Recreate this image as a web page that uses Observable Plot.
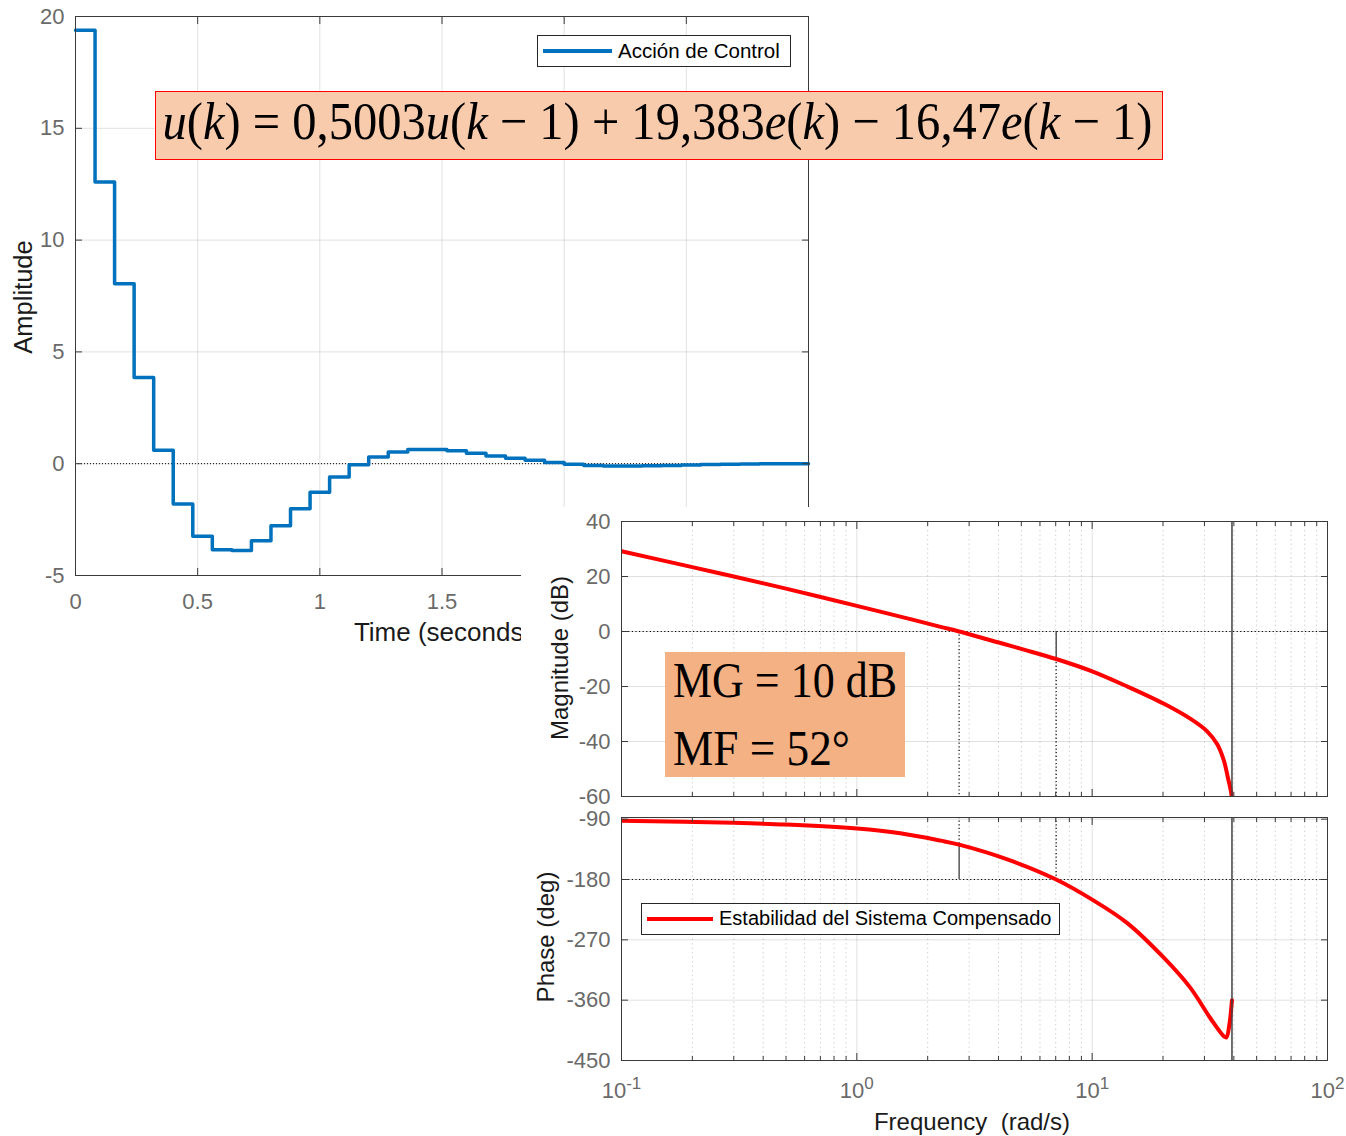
<!DOCTYPE html>
<html><head><meta charset="utf-8">
<script src="https://cdn.jsdelivr.net/npm/d3@7"></script>
<script src="https://cdn.jsdelivr.net/npm/@observablehq/plot@0.6"></script>
<style>
html,body{margin:0;padding:0;background:#fff;}
#root{position:relative;width:1346px;height:1136px;overflow:hidden;font-family:"Liberation Sans",Arial,sans-serif;background:#fff;}
.vlab{position:absolute;white-space:pre;color:#1a1a1a;transform:translate(-50%,-50%) rotate(-90deg);}
.hlab{position:absolute;white-space:pre;color:#1a1a1a;transform:translate(-50%,-50%);}
.legend{position:absolute;box-sizing:border-box;border:1px solid #262626;background:#fff;font-size:20px;color:#000;white-space:nowrap;}
.legend .sw{position:absolute;left:5px;top:50%;height:0;}
.legend .tx{position:absolute;top:50%;transform:translateY(-52%);}
</style></head>
<body><div id="root"></div>
<script>
// ---------- Step response (control action) ----------
const stepTimes = [0, 0.08, 0.16, 0.24, 0.32, 0.40, 0.48, 0.56, 0.64, 0.72, 0.80, 0.88, 0.96, 1.04, 1.12, 1.20, 1.28, 1.36, 1.44, 1.52, 1.60, 1.68, 1.76, 1.84, 1.92, 2.00, 2.08, 2.16, 2.24, 2.32, 2.40, 2.48, 2.56, 2.64, 2.72, 2.80, 2.88, 2.96, 3.00];
const stepValues = [19.38, 12.6, 8.05, 3.85, 0.6, -1.8, -3.25, -3.85, -3.88, -3.45, -2.78, -2.02, -1.28, -0.6, -0.05, 0.3, 0.52, 0.63, 0.64, 0.58, 0.47, 0.34, 0.24, 0.15, 0.05, -0.03, -0.08, -0.1, -0.1, -0.09, -0.08, -0.06, -0.04, -0.03, -0.01, 0, 0, 0, 0];
const stepXTicks = [0, 0.5, 1, 1.5, 2, 2.5, 3];
const stepYTicks = [-5, 0, 5, 10, 15, 20];
const stepLegend = "Acción de Control";

// ---------- Bode diagram ----------
const magFreq = [0.1, 0.2, 0.3, 0.5, 1, 1.5, 2.27, 2.72, 4.08, 5.13, 7.03, 10, 14.1, 20.2, 26.2, 30.8, 34, 36.3, 37.7, 39, 39.27];
const magDb   = [29.2, 23.4, 20, 15.6, 9.3, 5.6, 1.7, 0, -4.2, -6.6, -10, -14.5, -20, -26.3, -31.8, -36.3, -41, -47, -53, -58.8, -62];
const phFreq  = [0.1, 0.3, 0.5, 1, 1.53, 2.27, 2.72, 4.36, 7.03, 10, 14.1, 20.2, 26.2, 31.8, 36.3, 37.2, 38.3, 39.27];
const phDeg   = [-92.5, -95.5, -98, -104, -111, -122, -128, -150, -180, -210, -245, -297, -342, -387, -414, -415.5, -396, -360];
const freqDecades = [0.1, 1, 10, 100];
const freqMinor = [0.2,0.3,0.4,0.5,0.6,0.7,0.8,0.9, 2,3,4,5,6,7,8,9, 20,30,40,50,60,70,80,90];
const magTicks = [-60, -40, -20, 0, 20, 40];
const phTicks = [-450, -360, -270, -180, -90];
const gainCrossFreq = 2.72;    // |L| = 0 dB
const phaseCrossFreq = 7.03;   // phase = -180
const nyquistFreq = 39.27;
const gainMarginDb = 10;
const phaseMarginDeg = 52;
const bodeLegend = "Estabilidad del Sistema Compensado";

const AX = "#3a3a3a", TICKTXT = "#6a6a6a", GRID = "#000";
const root = document.getElementById("root");
const baseStyle = {fontFamily: "Liberation Sans, Arial, sans-serif", fontSize: "22px", background: "transparent", overflow: "visible"};

function place(el, left, top) { el.style.position = "absolute"; el.style.left = left + "px"; el.style.top = top + "px"; root.appendChild(el); return el; }
function label(text, cx, cy, size, vertical) {
  const d = document.createElement("div"); d.className = vertical ? "vlab" : "hlab";
  d.textContent = text; d.style.left = cx + "px"; d.style.top = cy + "px"; d.style.fontSize = size + "px";
  root.appendChild(d); return d;
}

// ---- Step chart ----
const stepData = stepTimes.map((t, i) => ({t, u: stepValues[i]}));
const stepSvg = Plot.plot({
  width: 830, height: 660,
  marginLeft: 75, marginTop: 16, marginRight: 22, marginBottom: 85,
  style: baseStyle,
  x: {domain: [0, 3], label: null},
  y: {domain: [-5, 20], label: null},
  marks: [
    Plot.gridX(stepXTicks, {stroke: GRID, strokeOpacity: 0.12}),
    Plot.gridY(stepYTicks, {stroke: GRID, strokeOpacity: 0.12}),
    Plot.ruleY([0], {stroke: "#000", strokeDasharray: "1,2", strokeWidth: 1}),
    Plot.line(stepData, {x: "t", y: "u", curve: "step-after", stroke: "#0072BD", strokeWidth: 3.5}),
    Plot.frame({stroke: AX, strokeWidth: 1}),
    Plot.axisX({ticks: stepXTicks, anchor: "bottom", tickSize: -7, tickFormat: () => "", stroke: AX, label: null}),
    Plot.axisX({ticks: stepXTicks, anchor: "top", tickSize: -7, tickFormat: () => "", stroke: AX, label: null}),
    Plot.axisY({ticks: stepYTicks, anchor: "left", tickSize: -7, tickFormat: () => "", stroke: AX, label: null}),
    Plot.axisY({ticks: stepYTicks, anchor: "right", tickSize: -7, tickFormat: () => "", stroke: AX, label: null}),
    Plot.axisX({ticks: stepXTicks, anchor: "bottom", tickSize: 0, tickPadding: 18, fill: TICKTXT, label: null, tickFormat: d => String(d)}),
    Plot.axisY({ticks: stepYTicks, anchor: "left", tickSize: 0, tickPadding: 11, fill: TICKTXT, label: null, tickFormat: d => String(d)})
  ]
});
place(stepSvg, 0, 0);
label("Amplitude", 23, 297, 25.5, true);
label("Time (seconds)", 443, 632, 26, false);

// legend of step chart
(function(){
  const lg = document.createElement("div"); lg.className = "legend";
  lg.style.left = "537px"; lg.style.top = "35px"; lg.style.width = "254px"; lg.style.height = "32px";
  lg.innerHTML = `<div class="sw" style="width:69px;border-top:4px solid #0072BD;margin-top:-2px"></div><div class="tx" style="left:80px;font-size:20.5px"></div>`;
  lg.querySelector(".tx").textContent = stepLegend;
  root.appendChild(lg);
})();

// white background of the Bode figure pasted over the step chart
const cover = document.createElement("div");
cover.style.cssText = "position:absolute;left:521px;top:507px;width:825px;height:629px;background:#fff;";
root.appendChild(cover);

// ---- Bode magnitude ----
const magData = magFreq.map((w, i) => ({w, v: magDb[i]}));
const phData = phFreq.map((w, i) => ({w, v: phDeg[i]}));
const dotted = {stroke: "#000", strokeDasharray: "1.2,2.4", strokeWidth: 1.2};
function bodeFrameAxes(yTicks) {
  return [
    Plot.frame({stroke: AX, strokeWidth: 1}),
    Plot.axisX({ticks: freqDecades, anchor: "bottom", tickSize: -7, tickFormat: () => "", stroke: AX, label: null}),
    Plot.axisX({ticks: freqDecades, anchor: "top", tickSize: -7, tickFormat: () => "", stroke: AX, label: null}),
    Plot.axisX({ticks: freqMinor, anchor: "bottom", tickSize: -4, tickFormat: () => "", stroke: AX, label: null}),
    Plot.axisX({ticks: freqMinor, anchor: "top", tickSize: -4, tickFormat: () => "", stroke: AX, label: null}),
    Plot.axisY({ticks: yTicks, anchor: "left", tickSize: -7, tickFormat: () => "", stroke: AX, label: null}),
    Plot.axisY({ticks: yTicks, anchor: "right", tickSize: -7, tickFormat: () => "", stroke: AX, label: null}),
    Plot.axisY({ticks: yTicks, anchor: "left", tickSize: 0, tickPadding: 11, fill: TICKTXT, label: null, tickFormat: d => String(d)})
  ];
}
function bodeGrid(yTicks) {
  return [
    Plot.gridX(freqMinor, {stroke: GRID, strokeOpacity: 0.18, strokeDasharray: "1.5,3"}),
    Plot.gridX(freqDecades, {stroke: GRID, strokeOpacity: 0.12}),
    Plot.gridY(yTicks, {stroke: GRID, strokeOpacity: 0.12})
  ];
}
const magSvg = Plot.plot({
  width: 826, height: 300,
  marginLeft: 101, marginTop: 21, marginRight: 19, marginBottom: 4,
  style: baseStyle,
  x: {type: "log", domain: [0.1, 100], label: null},
  y: {domain: [-60, 40], label: null},
  marks: [
    ...bodeGrid(magTicks),
    Plot.ruleY([0], dotted),
    Plot.ruleX([gainCrossFreq], {y1: 0, y2: -60, ...dotted}),
    Plot.ruleX([phaseCrossFreq], {y1: -gainMarginDb, y2: -60, ...dotted}),
    Plot.ruleX([phaseCrossFreq], {y1: 0, y2: -gainMarginDb, stroke: "#000", strokeWidth: 1}),
    Plot.line(magData, {x: "w", y: "v", curve: "catmull-rom", stroke: "#ff0000", strokeWidth: 4, clip: true}),
    Plot.ruleX([nyquistFreq], {stroke: "#404040", strokeWidth: 1.5}),
    ...bodeFrameAxes(magTicks)
  ]
});
place(magSvg, 520, 500);

// ---- Bode phase ----
const phSvg = Plot.plot({
  width: 826, height: 331,
  marginLeft: 101, marginTop: 12, marginRight: 19, marginBottom: 76,
  style: baseStyle,
  x: {type: "log", domain: [0.1, 100], label: null},
  y: {domain: [-450, -87.5], label: null},
  marks: [
    ...bodeGrid(phTicks),
    Plot.ruleY([-180], dotted),
    Plot.ruleX([gainCrossFreq], {y1: -87.5, y2: -180 + phaseMarginDeg, ...dotted}),
    Plot.ruleX([gainCrossFreq], {y1: -180 + phaseMarginDeg, y2: -180, stroke: "#000", strokeWidth: 1}),
    Plot.ruleX([phaseCrossFreq], {y1: -87.5, y2: -180, ...dotted}),
    Plot.line(phData, {x: "w", y: "v", curve: "catmull-rom", stroke: "#ff0000", strokeWidth: 4, clip: true}),
    Plot.ruleX([nyquistFreq], {stroke: "#404040", strokeWidth: 1.5}),
    ...bodeFrameAxes(phTicks),
    Plot.axisX({ticks: freqDecades, anchor: "bottom", tickSize: 0, tickPadding: 22, fill: TICKTXT, label: null,
      tickFormat: d => "10^" + Math.round(Math.log10(d))})
  ]
});
// superscript exponents
phSvg.querySelectorAll('[aria-label="x-axis tick label"] text').forEach(t => {
  const s = t.textContent;
  if (!s.includes("^")) return;
  const [b, e] = s.split("^");
  t.textContent = b;
  const ts = document.createElementNS("http://www.w3.org/2000/svg", "tspan");
  ts.setAttribute("dy", "-0.55em"); ts.setAttribute("font-size", "17px");
  ts.textContent = e;
  t.appendChild(ts);
});
place(phSvg, 520, 805);

label("Magnitude (dB)", 560, 658, 24, true);
label("Phase (deg)", 546, 937, 24, true);
label("Frequency  (rad/s)", 972, 1122, 24, false);

// Bode legend
(function(){
  const lg = document.createElement("div"); lg.className = "legend";
  lg.style.left = "641px"; lg.style.top = "903px"; lg.style.width = "419px"; lg.style.height = "32px";
  lg.innerHTML = `<div class="sw" style="width:66px;border-top:4px solid #ff0000;margin-top:-2px"></div><div class="tx" style="left:77px"></div>`;
  lg.querySelector(".tx").textContent = bodeLegend;
  root.appendChild(lg);
})();

// ---- Equation / margin boxes ----
const SVGNS = "http://www.w3.org/2000/svg";
function mathBox(left, top, w, h, bg, border, lines) {
  const box = document.createElement("div");
  box.style.cssText = `position:absolute;left:${left}px;top:${top}px;width:${w}px;height:${h}px;background:${bg};box-sizing:border-box;${border ? "border:1.5px solid " + border + ";" : ""}`;
  const svg = document.createElementNS(SVGNS, "svg");
  svg.setAttribute("width", w); svg.setAttribute("height", h);
  svg.style.cssText = "position:absolute;left:0;top:0;overflow:visible";
  const ox = border ? 1.5 : 0;
  box.appendChild(svg);
  root.appendChild(box);
  lines.forEach(L => {
    const g = document.createElementNS(SVGNS, "g");
    const t = document.createElementNS(SVGNS, "text");
    t.setAttribute("x", 0); t.setAttribute("y", 0);
    t.setAttribute("font-family", "Liberation Serif, Times New Roman, serif");
    t.setAttribute("font-size", L.size);
    t.setAttribute("fill", "#000");
    t.style.whiteSpace = "pre";
    L.parts.forEach(p => {
      const ts = document.createElementNS(SVGNS, "tspan");
      if (p[1]) ts.setAttribute("font-style", "italic");
      ts.textContent = p[0];
      t.appendChild(ts);
    });
    g.appendChild(t);
    svg.appendChild(g);
    const natural = t.getComputedTextLength() || L.len;
    const sx = L.len / natural;
    g.setAttribute("transform", `translate(${L.x - ox},${L.y - ox}) scale(${sx},${L.sy || 1})`);
  });
}
mathBox(155, 91, 1008, 69, "#F8CBAD", "#ff0000", [{
  x: 8, y: 48, size: 48, sy: 1.12, len: 990,
  parts: [["u",1],["(",0],["k",1],[") = 0,5003",0],["u",1],["(",0],["k",1],[" \u2212 1) + 19,383",0],["e",1],["(",0],["k",1],[") \u2212 16,47",0],["e",1],["(",0],["k",1],[" \u2212 1)",0]]
}]);
mathBox(665, 652, 240, 125, "#F4B183", null, [
  {x: 8, y: 45, size: 48, sy: 1.05, len: 224, parts: [["MG = 10 dB",0]]},
  {x: 8, y: 113, size: 48, sy: 1.05, len: 177, parts: [["MF = 52\u00B0",0]]}
]);
</script>
</body></html>
